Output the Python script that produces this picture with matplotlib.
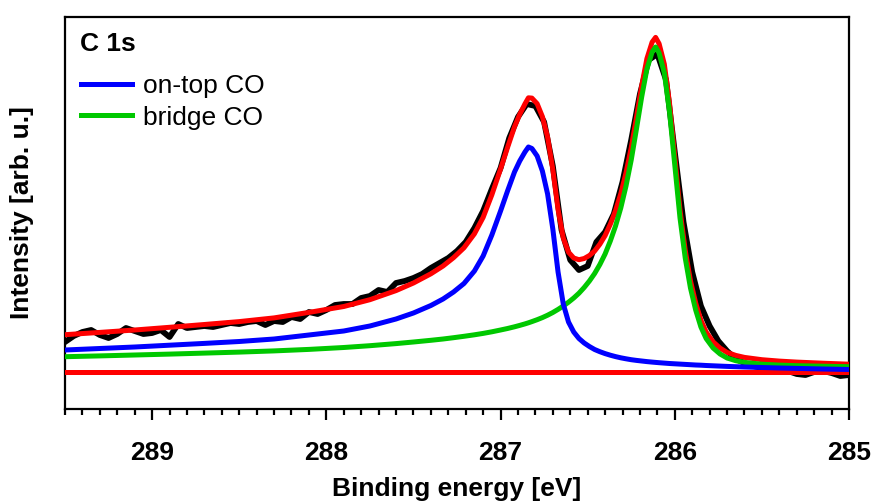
import numpy as np
import matplotlib
matplotlib.use("Agg")
import matplotlib.pyplot as plt
from matplotlib.ticker import MultipleLocator

plt.rcParams['font.family'] = ['Liberation Sans', 'DejaVu Sans']
plt.rcParams['font.weight'] = 'bold'

# energia dos pontos medidos (passo de 0.05 eV)
energy_data = np.round(np.arange(289.5, 284.99, -0.05), 2)
measured = [30, 36, 40, 42, 37, 34, 38, 44, 41, 38,
            39, 42, 35, 48, 44, 45, 46, 45, 47, 49,
            48, 50, 51, 47, 51, 50, 55, 53, 60, 58,
            62, 67, 68, 68, 74, 76, 82, 80, 89, 91,
            94, 98, 104, 109, 114, 121, 130, 144, 161, 183,
            204, 234, 255, 268, 266, 250, 206, 142, 112, 102,
            106, 130, 140, 158, 190, 232, 278, 312, 318, 292,
            220, 150, 100, 66, 46, 31, 21, 13, 9, 6,
            4, 3, 2, 1, -2, -3, 0, 1, -1, -4,
            -3]

# curvas do ajuste
energy_fit = [289.5, 289.3, 289.1, 288.9, 288.7, 288.5, 288.3, 288.1, 287.9, 287.75,
              287.6, 287.5, 287.4, 287.33, 287.27, 287.21, 287.15, 287.1, 287.05, 287.0,
              286.96, 286.92, 286.89, 286.86, 286.84, 286.82, 286.79, 286.76, 286.73, 286.70,
              286.67, 286.64, 286.61, 286.58, 286.55, 286.52, 286.49, 286.46, 286.43, 286.40,
              286.37, 286.34, 286.31, 286.28, 286.25, 286.22, 286.19, 286.16, 286.13, 286.11,
              286.09, 286.06, 286.03, 286.0, 285.97, 285.94, 285.91, 285.88, 285.85, 285.82,
              285.78, 285.74, 285.7, 285.65, 285.6, 285.5, 285.4, 285.3, 285.15, 285.0]
ontop = [22, 23.5, 25, 26.8, 28.6, 30.5, 33, 37, 41, 46,
         53, 59, 66.5, 73, 80, 88.5, 101, 116, 137, 161,
         181, 200, 211, 220, 225, 223.5, 216, 201, 178, 143,
         100, 68, 50, 40, 33.5, 29, 25.5, 22.5, 20.3, 18.4,
         16.8, 15.4, 14.2, 13.2, 12.3, 11.6, 11.0, 10.4, 9.9, 9.6,
         9.3, 8.9, 8.5, 8.2, 7.9, 7.6, 7.3, 7.0, 6.8, 6.5,
         6.2, 5.9, 5.6, 5.3, 5.0, 4.5, 4.0, 3.6, 3.0, 2.5]
bridge = [15.3, 16.1, 17.0, 17.9, 18.9, 19.9, 21.1, 22.6, 24.5, 26.3,
          28.4, 30, 31.7, 33, 34.3, 35.7, 37.2, 38.6, 40.2, 42,
          43.5, 45.2, 46.6, 48.1, 49.2, 50.4, 52.3, 54.4, 56.8, 59.5,
          62.6, 66.0, 69.8, 74.0, 78.8, 84.5, 91.0, 98.5, 107.5, 118,
          131, 146, 164, 186, 212, 243, 275, 303, 320, 325,
          319, 299, 260, 207, 154, 114, 84, 62, 45, 33.5,
          24, 18, 14, 11.3, 9.6, 7.8, 6.9, 6.3, 5.8, 5.3]
envelope = [37.3, 39.6, 42.0, 44.7, 47.5, 50.4, 54.1, 59.6, 65.5, 72.3,
            81.4, 89, 98.2, 106, 114.3, 124.2, 138.2, 154.6, 177.2, 203,
            224.5, 245.2, 257.6, 268.1, 274.2, 273.9, 268.3, 255.4, 234.8, 202.5,
            162.6, 134, 119.8, 114, 112.3, 113.5, 116.5, 121, 127.8, 136.4,
            147.8, 161.4, 178.2, 199.2, 224.3, 254.6, 286, 313.4, 329.9, 334.6,
            328.3, 307.9, 268.5, 215.2, 161.9, 121.6, 91.3, 69, 51.8, 40,
            30.2, 23.9, 19.6, 16.6, 14.6, 12.3, 10.9, 9.9, 8.8, 7.8]
baseline = 0

fig = plt.figure(figsize=(8.72, 5.01), dpi=100)
ax = fig.add_axes([65 / 872, 1 - 409 / 501, 784 / 872, 392 / 501])

ax.plot(energy_data, measured, color='black', lw=4.2, zorder=2)
ax.plot(energy_fit, envelope, color='#FF0000', lw=3.6, zorder=3)
ax.axhline(baseline, color='#FF0000', lw=3.6, zorder=3)
l_bridge, = ax.plot(energy_fit, bridge, color='#00C800', lw=3.6, zorder=4, label='bridge CO')
l_ontop, = ax.plot(energy_fit, ontop, color='#0000FF', lw=3.6, zorder=5, label='on-top CO')

ax.set_xlim(289.5, 285)
ax.set_ylim(-37, 355)
ax.set_yticks([])
ax.xaxis.set_major_locator(MultipleLocator(1))
ax.xaxis.set_minor_locator(MultipleLocator(0.1))
ax.tick_params(axis='x', which='major', direction='out', length=8, width=1.6, labelsize=19, pad=15)
ax.tick_params(axis='x', which='minor', direction='out', length=4.5, width=1.6)
for s in ax.spines.values():
    s.set_linewidth(1.6)

ax.set_xlabel('Binding energy [eV]', fontsize=19, fontweight='bold', labelpad=9)
ax.set_ylabel('Intensity [arb. u.]', fontsize=19, fontweight='bold', labelpad=22)

ax.text(0.019, 0.931, 'C 1s', transform=ax.transAxes, fontsize=19, fontweight='bold',
        ha='left', va='center')
ax.legend(handles=[l_ontop, l_bridge], loc='upper left', bbox_to_anchor=(0.02, 0.854),
          frameon=False, prop={'size': 19, 'weight': 'normal'}, handlelength=1.93,
          handletextpad=0.44, labelspacing=0.28, borderpad=0, borderaxespad=0)

plt.savefig('out.png', dpi=100)
